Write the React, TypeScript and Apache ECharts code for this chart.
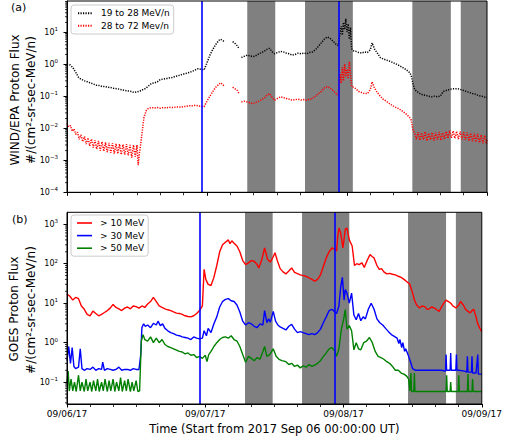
import React, { useEffect, useRef } from "react";
import * as echarts from "echarts";

// ---------- data (x = hours from 2017-09-06 00:00 UT) ----------
const DAY_LABELS = ["09/06/17", "09/07/17", "09/08/17", "09/09/17"];
const X_TITLE = "Time (Start from 2017 Sep 06 00:00:00 UT)";
const EVENT_LINES = [23.1, 46.5];
const SHADED: [number, number][] = [[30.9, 35.7], [40.8, 49.0], [59.2, 65.8], [67.5, 72]];

const WIND_NAMES = ["19 to 28 MeV/n", "28 to 72 Mev/n"];
const GOES_NAMES = ["> 10 MeV", "> 30 MeV", "> 50 MeV"];

const WIND_LOW: any[] = [
  [0,1.0],[0.5,0.95],[1,0.78],[1.5,0.55],[2,0.38],[2.5,0.33],[3,0.3],[3.5,0.28],[4,0.26],[4.5,0.24],[5,0.22],[5.5,0.215],
  [6,0.2],[6.5,0.2],[7,0.19],[7.5,0.185],[8,0.175],[8.5,0.17],[9,0.165],[9.5,0.155],[10,0.15],[10.5,0.145],[11,0.14],[11.5,0.13],
  [12,0.135],[12.5,0.145],[13,0.16],[13.5,0.175],[14,0.21],[14.5,0.25],[15,0.26],[15.5,0.28],[16,0.33],[16.5,0.34],[17,0.35],[17.5,0.37],
  [18,0.38],[18.5,0.41],[19,0.43],[19.5,0.46],[20,0.49],[20.5,0.52],[21,0.55],[21.5,0.6],[22,0.66],[22.5,0.72],[23,0.68],[23.5,0.66],
  [24,1.1],[24.5,1.9],[25,2.9],[25.5,4.1],[26,5.4],[26.3,6.0],[26.6,5.6],[27,5.0],[27.5,"-"],[28.4,5.0],[28.8,4.4],[29.2,3.7],[29.5,3.0],[29.7,"-"],
  [29.9,1.6],[30.4,1.75],[30.9,1.9],[31.4,1.8],[31.9,1.7],[32.4,1.85],[32.9,2.1],[33.4,2.3],[33.9,2.6],[34.3,2.9],[34.7,3.1],[35.2,2.4],
  [35.6,2.1],[36.1,2.3],[36.6,2.5],[37.1,2.4],[37.6,2.2],[38.1,2.1],[38.6,1.9],[39.1,2.0],[39.6,2.2],[40.1,2.1],[40.6,2.2],[41.1,2.1],
  [41.6,2.3],[42.1,2.4],[42.6,2.8],[43.1,3.6],[43.6,4.6],[44.1,6.0],[44.6,7.0],[45.1,6.4],[45.6,5.2],[46.1,4.2],[46.5,3.8],
  [46.8,9],[47.0,15],[47.2,8],[47.4,20],[47.6,12],[47.8,26],[48.0,10],[48.2,18],[48.4,6],[48.6,14],[48.8,3.0],
  [49.1,2.6],[49.5,2.5],[50,2.3],[50.5,2.2],[51,2.4],[51.5,2.3],[52,2.8],[52.3,4.6],[52.7,3.0],[53.2,2.2],[53.7,1.6],[54.2,1.45],
  [54.7,1.35],[55.2,1.25],[55.7,1.15],[56.2,1.05],[56.7,0.95],[57.2,0.85],[57.7,0.75],[58.2,0.66],[58.7,0.55],[59,0.45],[59.3,0.25],[59.6,0.16],
  [60,0.14],[60.5,0.12],[61,0.11],[61.5,0.105],[62,0.1],[62.5,0.095],[63,0.1],[63.5,0.095],[64,0.1],[64.5,0.14],[65,0.15],[65.5,0.16],
  [66,0.17],[66.5,0.17],[67,0.17],[67.5,0.16],[68,0.15],[68.5,0.14],[69,0.13],[69.5,0.12],[70,0.115],[70.5,0.105],[71,0.1],[71.5,0.095],[72,0.09],
];

const WIND_HIGH: any[] = [
  [0,0.014],[0.3,0.011],[0.6,0.012],[0.9,0.008],[1.2,0.0095],[1.5,0.0065],[1.8,0.0075],[2.1,0.0045],[2.4,0.0062],[2.7,0.0038],[3.0,0.0055],[3.3,0.0032],
  [3.6,0.005],[3.9,0.0028],[4.2,0.0046],[4.5,0.0025],[4.8,0.0042],[5.1,0.0022],[5.4,0.004],[5.7,0.002],[6.0,0.0038],[6.3,0.0019],[6.6,0.0036],[6.9,0.0018],
  [7.2,0.0035],[7.5,0.0017],[7.8,0.0034],[8.1,0.0016],[8.4,0.0033],[8.7,0.0016],[9.0,0.0032],[9.3,0.0015],[9.6,0.0031],[9.9,0.0015],[10.2,0.0032],[10.5,0.0014],
  [10.8,0.003],[11.1,0.0012],[11.4,0.003],[11.7,0.0013],[12.0,0.003],[12.2,0.0007],[12.4,0.0016],[12.6,0.0028],
  [12.9,0.008],[13.2,0.022],[13.6,0.036],[14,0.042],[14.5,0.044],[15,0.043],[15.5,0.044],[16,0.042],
  [16.5,0.044],[17,0.043],[17.5,0.045],[18,0.044],[18.5,0.045],[19,0.046],[19.5,0.045],[20,0.047],[20.5,0.048],[21,0.05],[21.5,0.05],[22,0.052],
  [22.5,0.05],[23,0.048],[23.5,0.047],[24,0.07],[24.5,0.1],[25,0.14],[25.5,0.19],[26,0.23],[26.3,0.26],[26.6,0.24],[27,0.2],[27.5,"-"],
  [28.4,0.19],[28.8,0.17],[29.2,0.15],[29.5,0.12],[29.7,"-"],[29.9,0.066],[30.4,0.07],[30.9,0.066],[31.4,0.062],[31.9,0.058],[32.4,0.064],[32.9,0.07],
  [33.4,0.078],[33.9,0.09],[34.3,0.11],[34.7,0.12],[35.2,0.09],[35.6,0.075],[36.1,0.085],[36.6,0.095],[37.1,0.09],[37.6,0.085],[38.1,0.08],[38.6,0.075],
  [39.1,0.078],[39.6,0.08],[40.1,0.076],[40.6,0.078],[41.1,0.075],[41.6,0.08],[42.1,0.085],[42.6,0.1],[43.1,0.12],[43.6,0.14],[44.1,0.18],[44.6,0.2],
  [45.1,0.18],[45.6,0.15],[46.1,0.12],[46.5,0.105],[46.8,0.5],[47.0,0.25],[47.2,0.8],[47.4,0.3],[47.6,1.0],[47.8,0.4],[48.0,0.7],[48.2,0.35],
  [48.4,1.2],[48.6,0.5],[48.8,0.2],[49.1,0.19],[49.5,0.17],[50,0.14],[50.5,0.13],[51,0.12],[51.5,0.12],[52,0.16],[52.3,0.28],[52.7,0.18],
  [53.2,0.13],[53.7,0.1],[54.2,0.08],[54.7,0.07],[55.2,0.06],[55.7,0.052],[56.2,0.046],[56.7,0.042],[57.2,0.037],[57.7,0.032],[58.2,0.027],[58.7,0.022],
  [59,0.018],[59.3,0.009],[59.6,0.0068],[59.9,0.0045],[60.2,0.0075],[60.5,0.0042],[60.8,0.0072],[61.1,0.0044],[61.4,0.0078],[61.7,0.004],[62.0,0.007],
  [62.3,0.0043],[62.6,0.0074],[62.9,0.0041],[63.2,0.0072],[63.5,0.0044],[63.8,0.0076],[64.1,0.0042],[64.4,0.0073],[64.7,0.0045],[65.0,0.008],[65.3,0.0048],
  [65.6,0.0085],[65.9,0.005],[66.2,0.0082],[66.5,0.0048],[66.8,0.008],[67.1,0.0046],[67.4,0.0078],[67.7,0.0045],[68.0,0.0075],[68.3,0.0043],[68.6,0.0072],
  [68.9,0.004],[69.2,0.007],[69.5,0.0039],[69.8,0.0068],[70.1,0.0037],[70.4,0.0066],[70.7,0.0035],[71.0,0.0062],[71.3,0.0034],[71.6,0.006],[71.9,0.0033],[72,0.0045],
];

const GOES_10: number[][] = [
  [0,17],[0.5,15],[1,12],[1.5,14],[2,13],[2.5,8.5],[3,7],[3.5,5.2],[4,4.8],[4.5,6.3],[5,5.5],[5.5,4.8],[6,5.2],[6.5,5.8],[7,6.5],[7.5,7.5],
  [8,9.3],[8.5,7.8],[9,7.2],[9.5,6.5],[10,7.5],[10.5,8],[11,7.2],[11.5,8.5],[12,8.2],[12.5,7.5],[13,8.5],[13.5,7.8],[14,9.5],[14.5,11],[15,14],[15.5,11],
  [16,8.5],[16.5,7.8],[17,7.2],[17.5,6.8],[18,6.5],[18.5,6.0],[19,5.6],[19.5,5.5],[20,5.2],[20.5,4.8],[21,4.6],[21.5,4.5],[22,4.8],[22.5,5.5],[23,6.5],[23.5,8.5],
  [23.8,72],[24.1,40],[24.5,30],[25,28],[25.5,45],[26,90],[26.5,200],[27,300],[27.5,350],[28,400],[28.3,320],[28.6,380],[29,330],[29.5,280],[30,200],[30.5,120],
  [31,95],[31.5,105],[32,120],[32.5,115],[33,95],[33.3,78],[33.8,125],[34.3,250],[34.8,130],[35.3,110],[35.8,150],[36.1,190],[36.5,120],[37,75],[37.5,62],[38,55],
  [38.5,65],[39,78],[39.5,60],[40,56],[40.5,52],[41,50],[41.5,48],[42,44],[42.5,40],[43,36],[43.5,40],[44,52],[44.5,85],[45,140],[45.5,200],[46,250],
  [46.5,230],[46.8,210],[47,500],[47.2,800],[47.5,600],[47.9,250],[48.3,740],[48.6,800],[49,400],[49.5,280],[49.9,90],[50.3,100],[50.7,95],[51.2,105],[51.6,80],[52.1,120],
  [52.6,170],[53,150],[53.3,140],[53.8,90],[54.2,72],[54.6,75],[55,62],[55.5,55],[56,57],[56.5,54],[57,52],[57.5,48],[58,45],[58.5,40],[59,35],[59.5,30],
  [60,18],[60.3,12],[60.7,9],[61.2,7.5],[61.6,8.5],[62.1,8.2],[62.5,7.0],[62.9,7.2],[63.3,8],[63.8,7.5],[64.2,6.8],[64.6,6.2],[65,8],[65.4,10],[65.8,12],[66.2,11],
  [66.6,10],[67,8.5],[67.5,7.6],[68,9],[68.3,11],[68.8,9],[69.2,7],[69.6,6.2],[70,5.7],[70.3,6.5],[70.6,7],[71,4.5],[71.3,3.0],[71.6,2.4],[72,1.9],
];

const GOES_30: number[][] = [
  [0,0.35],[0.3,0.8],[0.6,0.3],[0.9,0.75],[1.2,0.25],[1.5,0.22],[2,0.24],[2.3,0.7],[2.6,0.22],[3,0.2],[3.5,0.22],[4,0.21],[4.5,0.24],[5,0.2],[5.5,0.22],[6,0.21],
  [6.2,0.32],[6.5,0.2],[7,0.22],[7.5,0.21],[8,0.2],[8.5,0.21],[9,0.24],[9.5,0.2],[10,0.21],[10.5,0.21],[11,0.2],[11.5,0.22],[12,0.21],[12.5,0.21],[12.8,0.5],[13,2.4],
  [13.3,3.0],[13.6,2.6],[14,2.8],[14.5,2.4],[15,3.1],[15.5,2.8],[15.8,3.5],[16.2,2.7],[16.6,3.0],[17,2.3],[17.5,2.0],[18,1.8],[18.5,1.7],[19,1.55],[19.5,1.5],[20,1.4],
  [20.5,1.35],[21,1.3],[21.5,1.2],[22,1.4],[22.5,1.3],[23,1.25],[23.5,1.3],[23.8,2.0],[24.2,1.5],[24.5,2.3],[25,1.8],[25.5,3.0],[26,4.5],[26.5,8],[27,11],[27.5,12.5],
  [28,13],[28.5,11.5],[29,11],[29.5,9],[30,6],[30.5,3.5],[31,2.8],[31.5,3.2],[32,3.0],[32.5,2.6],[33,2.4],[33.5,3.0],[34,2.8],[34.3,6.5],[34.7,3.2],[35,4],
  [35.3,3.3],[35.8,6.2],[36.2,3.5],[36.6,2.8],[37,2.5],[37.5,2.3],[38,2.1],[38.5,2.6],[39,2.9],[39.5,2.2],[40,1.8],[40.5,1.9],[41,1.8],[41.5,1.7],[42,1.6],[42.5,1.7],
  [43,1.6],[43.5,1.8],[44,2.2],[44.5,3.2],[45,4.5],[45.5,6.5],[46,7],[46.5,6],[46.8,5.5],[47.2,8.5],[47.5,25],[47.8,45],[48.1,12],[48.3,22],[48.6,18],[49,10],
  [49.4,18],[49.8,5],[50.2,3.8],[50.6,5.5],[51,3.6],[51.4,4.5],[51.8,4.0],[52.3,7],[52.8,10],[53.3,7],[53.8,4],[54.3,3.2],[54.8,2.8],[55.3,2.3],[55.8,1.9],[56.3,1.6],
  [56.8,1.45],[57.3,1.3],[57.6,0.95],[57.8,1.2],[58.1,0.75],[58.3,1.0],[58.6,0.6],[58.8,0.7],[59.3,0.45],[59.7,0.3],[60,0.22],[60.5,0.2],[61,0.2],[62,0.2],[63,0.2],[64,0.2],
  [65,0.2],[65.7,0.19],[65.8,0.5],[65.9,0.2],[66.5,0.2],[66.6,0.55],[66.7,0.2],[67.5,0.2],[67.6,0.5],[67.7,0.2],[68,0.2],[69,0.19],[69.4,0.18],[69.5,0.45],[69.6,0.18],[70.2,0.18],
  [70.3,0.45],[70.4,0.17],[71,0.17],[71.3,0.5],[71.4,0.16],[72,0.16],
];

const GOES_50: number[][] = [
  [0,0.1],[0.2,0.19],[0.4,0.06],[0.7,0.12],[1,0.06],[1.3,0.1],[1.6,0.058],[2,0.15],[2.3,0.06],[2.6,0.1],[3,0.058],[3.3,0.12],[3.6,0.06],[4,0.1],[4.3,0.058],[4.6,0.11],
  [5,0.06],[5.3,0.12],[5.6,0.058],[6,0.1],[6.3,0.06],[6.6,0.12],[7,0.058],[7.3,0.11],[7.6,0.06],[8,0.12],[8.3,0.058],[8.6,0.1],[9,0.06],[9.3,0.13],[9.6,0.058],[10,0.11],
  [10.3,0.06],[10.6,0.12],[11,0.058],[11.3,0.1],[11.6,0.06],[12,0.11],[12.3,0.058],[12.6,0.06],[12.9,1.1],[13.2,1.6],[13.5,1.2],[14,1.1],[14.5,1.4],[15,1.0],[15.5,1.3],[16,1.0],
  [16.5,1.2],[17,0.9],[17.5,0.8],[18,0.75],[18.5,0.7],[19,0.65],[19.5,0.6],[20,0.58],[20.5,0.52],[21,0.55],[21.5,0.48],[22,0.5],[22.5,0.42],[23,0.45],[23.5,0.4],[24,0.48],
  [24.3,0.33],[24.6,0.5],[25,0.6],[25.5,0.8],[26,1.0],[26.5,1.2],[27,1.35],[27.5,1.4],[28,1.3],[28.5,1.5],[29,1.2],[29.5,1.1],[30,0.8],[30.5,0.5],[31,0.32],[31.5,0.45],
  [32,0.4],[32.5,0.35],[33,0.42],[33.5,0.38],[34,0.6],[34.3,0.8],[34.7,0.45],[35.2,0.5],[35.8,0.7],[36.3,0.45],[36.8,0.38],[37.3,0.35],[38,0.33],[38.5,0.28],[39,0.3],[39.5,0.25],
  [40,0.27],[40.5,0.23],[41,0.26],[41.5,0.24],[42,0.28],[42.5,0.25],[43,0.27],[43.5,0.3],[44,0.35],[44.5,0.45],[45,0.55],[45.5,0.7],[46,0.75],[46.5,0.6],[46.8,0.45],[47.2,0.7],
  [47.6,2.1],[48,3.8],[48.3,6.9],[48.6,2.2],[49,2.7],[49.4,2.0],[49.8,0.66],[50.2,1.0],[50.6,0.7],[51,0.66],[51.5,1.0],[52,1.1],[52.5,1.35],[53,1.0],[53.5,0.6],[54,0.45],
  [54.5,0.42],[55,0.38],[55.5,0.33],[56,0.3],[56.5,0.25],[57,0.2],[57.5,0.2],[58,0.17],[58.5,0.16],[59,0.14],[59.3,0.12],[59.5,0.06],[59.7,0.17],[59.8,0.058],[60.2,0.058],[60.3,0.17],
  [60.4,0.058],[61,0.058],[62,0.058],[63,0.058],[64,0.058],[65,0.058],[65.8,0.058],[65.9,0.15],[66,0.058],[66.5,0.058],[66.6,0.1],[66.7,0.058],[67.9,0.058],[68,0.15],[68.1,0.058],[69.5,0.058],
  [69.6,0.16],[69.7,0.058],[70.3,0.058],[70.4,0.12],[70.5,0.058],[72,0.058],
];

const Y_A_RANGE = [1e-4, 93];
const Y_B_RANGE = [0.028, 2000];

// ---------- helpers ----------
const FONT = "DejaVu Sans";

function minorTickValues(lo: number, hi: number): number[] {
  const out: number[] = [];
  for (let e = Math.floor(Math.log10(lo)); e <= Math.ceil(Math.log10(hi)); e++) {
    for (let m = 2; m <= 9; m++) {
      const v = m * Math.pow(10, e);
      if (v > lo && v < hi) out.push(v);
    }
  }
  return out;
}

const logLabel = (v: number) => {
  const e = Math.round(Math.log10(v));
  return `{b|10}{s|${e < 0 ? "\u2212" + -e : e}}`;
};

function yAxisCfg(grid: number, range: number[], showMin: boolean) {
  return {
    gridIndex: grid,
    type: "log",
    logBase: 10,
    min: range[0],
    max: range[1],
    z: 10,
    axisLine: { show: true, lineStyle: { color: "#000", width: 1 } },
    axisTick: { show: true, length: 3.5, lineStyle: { color: "#000", width: 1 } },
    splitLine: { show: false },
    axisLabel: {
      margin: 9,
      color: "#000",
      showMinLabel: showMin,
      showMaxLabel: false,
      formatter: logLabel,
      rich: {
        b: { fontSize: 8, fontFamily: FONT, color: "#000", lineHeight: 12 },
        s: { fontSize: 5.5, fontFamily: FONT, color: "#000", lineHeight: 5, verticalAlign: "top" },
      },
    },
  };
}

function xAxisCfg(grid: number, labels: boolean) {
  return {
    gridIndex: grid,
    type: "value",
    min: 0,
    max: 72,
    interval: 24,
    z: 10,
    axisLine: { show: true, onZero: false, lineStyle: { color: "#000", width: 1 } },
    axisTick: { show: true, length: 3.5, lineStyle: { color: "#000", width: 1 } },
    minorTick: { show: true, splitNumber: 6, length: 3, lineStyle: { color: "#000", width: 0.8 } },
    splitLine: { show: false },
    axisLabel: {
      show: labels,
      color: "#000",
      fontSize: 9,
      fontFamily: FONT,
      margin: 5,
      formatter: (v: number) => DAY_LABELS[Math.round(v / 24)] ?? "",
    },
    name: labels ? X_TITLE : "",
    nameLocation: "middle",
    nameGap: 19,
    nameTextStyle: { color: "#000", fontSize: 11.5, fontFamily: FONT },
  };
}

function minorTickSeries(grid: number, range: number[]) {
  return {
    type: "custom",
    xAxisIndex: grid,
    yAxisIndex: grid,
    silent: true,
    clip: false,
    z: 10,
    data: minorTickValues(range[0], range[1]).map((v) => [0, v]),
    renderItem: (_p: any, api: any) => {
      const p = api.coord([0, api.value(1)]);
      return {
        type: "line",
        shape: { x1: p[0] - 2, y1: p[1], x2: p[0], y2: p[1] },
        style: { stroke: "#000", lineWidth: 0.8 },
      };
    },
  };
}

function markerSeries(grid: number) {
  return [
    {
      type: "line",
      xAxisIndex: grid,
      yAxisIndex: grid,
      data: [],
      z: 1,
      silent: true,
      markArea: {
        silent: true,
        itemStyle: { color: "#808080", opacity: 1 },
        label: { show: false },
        data: SHADED.map(([a, b]) => [{ xAxis: a }, { xAxis: b }]),
      },
    },
    {
      type: "line",
      xAxisIndex: grid,
      yAxisIndex: grid,
      data: [],
      z: 6,
      silent: true,
      markLine: {
        silent: true,
        symbol: ["none", "none"],
        label: { show: false },
        lineStyle: { color: "#0000ff", width: 1.6, type: "solid" },
        data: EVENT_LINES.map((v) => ({ xAxis: v })),
      },
    },
  ];
}

const legendBase = {
  orient: "vertical",
  left: 71,
  itemWidth: 15,
  itemHeight: 8,
  selectedMode: false,
  borderColor: "#cccccc",
  borderWidth: 1,
  borderRadius: 3,
  backgroundColor: "rgba(255,255,255,0.85)",
  z: 20,
  itemStyle: { opacity: 0 },
  textStyle: { color: "#000", fontSize: 9, fontFamily: FONT, lineHeight: 10, padding: [0, 0, 0, 3] },
};

export default function App() {
  const ref = useRef<HTMLDivElement>(null);

  useEffect(() => {
    if (!ref.current) return;
    const chart = echarts.init(ref.current, undefined, { renderer: "svg" });

    const dotted = (color: string) => ({ color, width: 1.5, type: [1.2, 1.3] });

    const option: any = {
      animation: false,
      backgroundColor: "#ffffff",
      textStyle: { fontFamily: FONT },
      grid: [
        { left: 67, top: 1, width: 420, height: 191.3, show: true, borderColor: "#000", borderWidth: 1, backgroundColor: "transparent", z: 10 },
        { left: 67, top: 212.3, width: 420, height: 191.7, show: true, borderColor: "#000", borderWidth: 1, backgroundColor: "transparent", z: 10 },
      ],
      xAxis: [xAxisCfg(0, false), xAxisCfg(1, true)],
      yAxis: [yAxisCfg(0, Y_A_RANGE, true), yAxisCfg(1, Y_B_RANGE, false)],
      legend: [
        { ...legendBase, top: 5, itemGap: 2.4, padding: [3.3, 4, 3.3, 6], data: WIND_NAMES },
        {
          ...legendBase, top: 215, itemGap: 2.6, padding: [3, 4, 3, 6], data: GOES_NAMES,
          icon: "rect", itemHeight: 1.6, itemStyle: { opacity: 1 },
        },
      ],
      graphic: [
        { type: "text", x: 15, y: 100, rotation: Math.PI / 2, style: { text: "WIND/EPA Proton Flux", fill: "#000", font: `12px "${FONT}"`, align: "center", verticalAlign: "middle" } },
        { type: "text", x: 31, y: 100, rotation: Math.PI / 2, style: { text: "#/(cm²-sr-sec-MeV/n)", fill: "#000", font: `12px "${FONT}"`, align: "center", verticalAlign: "middle" } },
        { type: "text", x: 14, y: 309, rotation: Math.PI / 2, style: { text: "GOES Proton Flux", fill: "#000", font: `12px "${FONT}"`, align: "center", verticalAlign: "middle" } },
        { type: "text", x: 31, y: 310, rotation: Math.PI / 2, style: { text: "#/(cm²-sr-sec-MeV/n)", fill: "#000", font: `12px "${FONT}"`, align: "center", verticalAlign: "middle" } },
        { type: "text", x: 11, y: 7, style: { text: "(a)", fill: "#000", font: `11px "${FONT}"`, align: "left", verticalAlign: "middle" } },
        { type: "text", x: 12, y: 219, style: { text: "(b)", fill: "#000", font: `11px "${FONT}"`, align: "left", verticalAlign: "middle" } },
      ],
      series: [
        ...markerSeries(0),
        ...markerSeries(1),
        {
          name: WIND_NAMES[0], type: "line", xAxisIndex: 0, yAxisIndex: 0, data: WIND_LOW,
          symbol: "none", connectNulls: false, z: 3, lineStyle: dotted("#000000"), itemStyle: { color: "#000000" },
        },
        {
          name: WIND_NAMES[1], type: "line", xAxisIndex: 0, yAxisIndex: 0, data: WIND_HIGH,
          symbol: "none", connectNulls: false, z: 3, lineStyle: dotted("#ff0000"), itemStyle: { color: "#ff0000" },
        },
        {
          name: GOES_NAMES[0], type: "line", xAxisIndex: 1, yAxisIndex: 1, data: GOES_10,
          symbol: "none", z: 3, lineStyle: { color: "#ff0000", width: 1.4 }, itemStyle: { color: "#ff0000" },
        },
        {
          name: GOES_NAMES[1], type: "line", xAxisIndex: 1, yAxisIndex: 1, data: GOES_30,
          symbol: "none", z: 3, lineStyle: { color: "#0000ff", width: 1.4 }, itemStyle: { color: "#0000ff" },
        },
        {
          name: GOES_NAMES[2], type: "line", xAxisIndex: 1, yAxisIndex: 1, data: GOES_50,
          symbol: "none", z: 3, lineStyle: { color: "#008000", width: 1.4 }, itemStyle: { color: "#008000" },
        },
        minorTickSeries(0, Y_A_RANGE),
        minorTickSeries(1, Y_B_RANGE),
      ],
    };

    chart.setOption(option);
    return () => chart.dispose();
  }, []);

  return (
    <div
      ref={ref}
      style={{ position: "fixed", left: 0, top: 0, width: 505, height: 438, background: "#fff" }}
    />
  );
}
